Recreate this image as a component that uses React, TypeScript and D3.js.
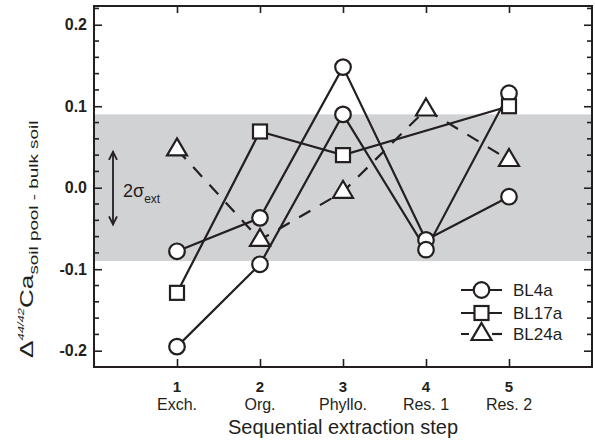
import React, { useRef, useEffect } from "react";
import * as d3 from "d3";

// extraction steps
const steps = [1, 2, 3, 4, 5];
const stepLabels = ["Exch.", "Org.", "Phyllo.", "Res. 1", "Res. 2"];

// Δ44/42Ca values per step (null = not measured)
const bl4a = [-0.078, -0.037, 0.148, -0.064, -0.011];
const bl4aRep = [-0.195, -0.094, 0.09, -0.076, 0.116];
const bl17a = [-0.129, 0.069, 0.04, null, 0.1];
const bl24a = [0.047, -0.064, -0.005, 0.096, 0.034];

const yMajor = [-0.2, -0.1, 0, 0.1, 0.2];
const yMajorLabels = ["-0.2", "-0.1", "0.0", "0.1", "0.2"];
const band = [-0.09, 0.09];
const legendNames = ["BL4a", "BL17a", "BL24a"];

const INK = "#231f20";
const FONT = "'Liberation Sans', Arial, Helvetica, sans-serif";

function App() {
    const svgRef = useRef<SVGSVGElement>(null);

    useEffect(() => {
        const svg = d3.select(svgRef.current);
        svg.selectAll("*").remove();

        const left = 94, right = 592, top = 6, bottom = 367;

        const x = d3.scaleLinear().domain([0, 6]).range([left, right]);
        const y = d3.scaleLinear().domain([-0.22, 0.223]).range([bottom, top]);
        const yMinor = d3.range(-11, 12).map((i) => i * 0.02).filter((v) => !yMajor.some((m) => Math.abs(m - v) < 1e-6));

        // 2 sigma band
        svg.append("rect")
            .attr("x", left)
            .attr("width", right - left)
            .attr("y", y(band[1]))
            .attr("height", y(band[0]) - y(band[1]))
            .attr("fill", "#d1d2d4");

        // arrow
        const ax = 113;
        const ay1 = y(0.044), ay2 = y(-0.045);
        const arrow = svg.append("g").attr("stroke", INK).attr("stroke-width", 1.8).attr("fill", "none");
        arrow.append("line").attr("x1", ax).attr("x2", ax).attr("y1", ay1).attr("y2", ay2);
        arrow.append("path").attr("d", `M${ax - 4},${ay1 + 8}L${ax},${ay1}L${ax + 4},${ay1 + 8}`);
        arrow.append("path").attr("d", `M${ax - 4},${ay2 - 8}L${ax},${ay2}L${ax + 4},${ay2 - 8}`);

        const sig = svg.append("text")
            .attr("x", 123)
            .attr("y", 197)
            .attr("font-family", FONT)
            .attr("font-size", 18)
            .attr("fill", INK);
        sig.append("tspan").text("2σ");
        sig.append("tspan").attr("font-size", 12).attr("dy", 6).text("ext");

        // axes frame
        const axG = svg.append("g").attr("font-family", FONT);

        const leftAxis = axG.append("g")
            .attr("transform", `translate(${left},0)`)
            .call(d3.axisLeft(y).tickValues(yMajor).tickSize(-8).tickPadding(7)
                .tickFormat((d, i) => yMajorLabels[i]));
        leftAxis.append("g").selectAll("line").data(yMinor).enter().append("line")
            .attr("x1", 0).attr("x2", 5).attr("y1", (d) => y(d)).attr("y2", (d) => y(d));

        const rightAxis = axG.append("g")
            .attr("transform", `translate(${right},0)`)
            .call(d3.axisRight(y).tickValues(yMajor).tickSize(-8).tickFormat(() => ""));
        rightAxis.append("g").selectAll("line").data(yMinor).enter().append("line")
            .attr("x1", 0).attr("x2", -5).attr("y1", (d) => y(d)).attr("y2", (d) => y(d));

        axG.append("g")
            .attr("transform", `translate(0,${bottom})`)
            .call(d3.axisBottom(x).tickValues(steps).tickSize(-8).tickFormat(() => ""));
        axG.append("g")
            .attr("transform", `translate(0,${top})`)
            .call(d3.axisTop(x).tickValues(steps).tickSize(-7).tickFormat(() => ""));

        axG.selectAll(".domain").remove();
        axG.selectAll("line").attr("stroke", INK).attr("stroke-width", 1.6);
        axG.selectAll(".tick text")
            .attr("font-size", 16)
            .attr("font-weight", "bold")
            .attr("font-family", FONT)
            .attr("fill", INK);

        svg.append("rect")
            .attr("x", left).attr("y", top)
            .attr("width", right - left).attr("height", bottom - top)
            .attr("fill", "none").attr("stroke", INK).attr("stroke-width", 2);

        // x labels
        const xl = svg.append("g").attr("font-family", FONT).attr("fill", INK).attr("text-anchor", "middle");
        xl.selectAll("text.num").data(steps).enter().append("text")
            .attr("class", "num")
            .attr("x", (d) => x(d)).attr("y", 392)
            .attr("font-size", 15).attr("font-weight", "bold")
            .text((d) => d);
        xl.selectAll("text.cat").data(stepLabels).enter().append("text")
            .attr("class", "cat")
            .attr("x", (d, i) => x(steps[i])).attr("y", 410)
            .attr("font-size", 16)
            .text((d) => d);
        xl.append("text")
            .attr("x", 343).attr("y", 434)
            .attr("font-size", 20)
            .text("Sequential extraction step");

        // y label
        const yl = svg.append("text")
            .attr("transform", "translate(33,358) rotate(-90) scale(1.45,1)")
            .attr("font-family", FONT)
            .attr("fill", INK)
            .attr("font-size", 18);
        yl.append("tspan").text("Δ");
        yl.append("tspan").attr("font-size", 9).attr("font-style", "italic").attr("dy", -9).text("44/42");
        yl.append("tspan").attr("dy", 9).text("Ca");
        yl.append("tspan").attr("font-size", 13).attr("dy", 5).text("soil pool - bulk soil");

        // series
        const toPts = (vals: (number | null)[]) =>
            vals.map((v, i) => ({ step: steps[i], v })).filter((p) => p.v !== null) as { step: number; v: number }[];

        const line = d3.line<{ step: number; v: number }>()
            .x((d) => x(d.step))
            .y((d) => y(d.v));

        const series = [
            { vals: bl4a, shape: "circle", dash: null },
            { vals: bl4aRep, shape: "circle", dash: null },
            { vals: bl17a, shape: "square", dash: null },
            { vals: bl24a, shape: "triangle", dash: "13,11" },
        ];

        const lines = svg.append("g");
        series.forEach((s) => {
            lines.append("path")
                .datum(toPts(s.vals))
                .attr("d", line)
                .attr("fill", "none")
                .attr("stroke", INK)
                .attr("stroke-width", 2.2)
                .attr("stroke-dasharray", s.dash);
        });

        const drawMarker = (g: any, shape: string, cx: number, cy: number) => {
            if (shape === "circle") {
                g.append("circle").attr("cx", cx).attr("cy", cy).attr("r", 7.8);
            } else if (shape === "square") {
                g.append("rect").attr("x", cx - 7).attr("y", cy - 7).attr("width", 14).attr("height", 14);
            } else {
                g.append("path").attr("d", `M${cx},${cy - 11}L${cx + 10},${cy + 6}L${cx - 10},${cy + 6}Z`);
            }
        };

        const marks = svg.append("g").attr("fill", "#fff").attr("stroke", INK).attr("stroke-width", 2.2);
        series.forEach((s) => {
            toPts(s.vals).forEach((p) => drawMarker(marks, s.shape, x(p.step), y(p.v)));
        });

        // legend
        const legend = svg.append("g");
        const legendShapes = ["circle", "square", "triangle"];
        const legendY = [290, 313, 334];
        legendNames.forEach((name, i) => {
            const ly = legendY[i];
            legend.append("line")
                .attr("x1", 461).attr("x2", 502).attr("y1", ly).attr("y2", ly)
                .attr("stroke", INK).attr("stroke-width", 2.2)
                .attr("stroke-dasharray", i === 2 ? "8,26" : null);
            if (i === 2) {
                legend.append("line").attr("x1", 492).attr("x2", 502).attr("y1", ly).attr("y2", ly)
                    .attr("stroke", INK).attr("stroke-width", 2.2);
            }
            const mg = legend.append("g").attr("fill", "#fff").attr("stroke", INK).attr("stroke-width", 2.2);
            drawMarker(mg, legendShapes[i], 481.5, ly);
            legend.append("text")
                .attr("x", 513).attr("y", ly + 6)
                .attr("font-family", FONT).attr("font-size", 17).attr("fill", INK)
                .text(name);
        });
    }, []);

    return (
        <svg ref={svgRef} width={595} height={447}
            style={{ position: "absolute", left: 0, top: 0, background: "#fff" }}></svg>
    );
}

export default App;
